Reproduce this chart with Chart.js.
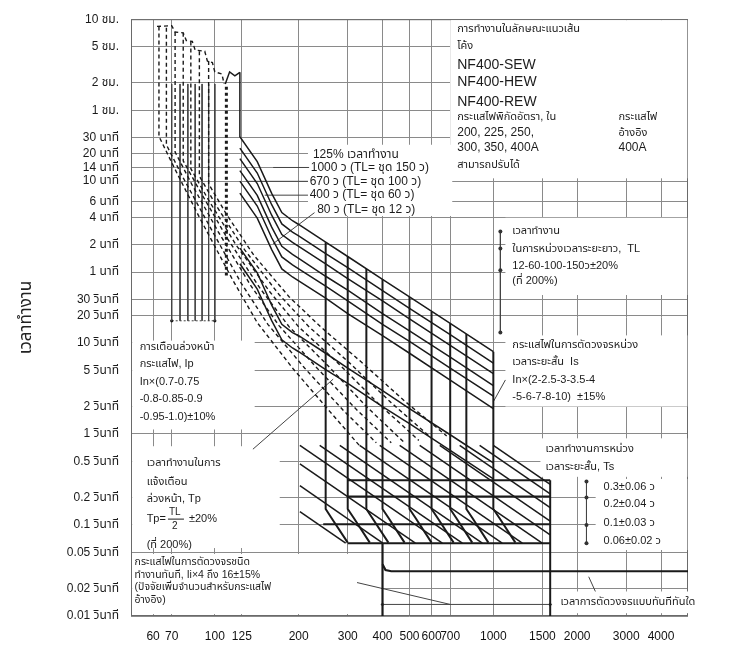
<!DOCTYPE html>
<html>
<head>
<meta charset="utf-8">
<script src="https://cdn.jsdelivr.net/npm/chart.js@4.4.1/dist/chart.umd.min.js"></script>
<style>
  html, body { margin: 0; padding: 0; background: #fff; }
  canvas { display: block; }
</style>
</head>
<body>
<canvas id="tcc" width="755" height="650"></canvas>
<script>
// Time-current characteristic, NF400-SEW/HEW/REW (electronic trip)
// x: current in % of rated current, y: operating time in seconds (log-log)

const CURRENT_TICKS = [60, 70, 100, 125, 200, 300, 400, 500, 600, 700, 1000, 1500, 2000, 3000, 4000];
const TIME_TICKS = [36000, 18000, 7200, 3600, 1800, 1200, 840, 600, 360, 240, 120, 60, 30, 20, 10, 5, 2, 1, 0.5, 0.2, 0.1, 0.05, 0.02, 0.01];
const TIME_LABELS = ['10 ชม.', '5 ชม.', '2 ชม.', '1 ชม.', '30 นาที', '20 นาที', '14 นาที', '10 นาที', '6 นาที', '4 นาที',
  '2 นาที', '1 นาที', '30 วินาที', '20 วินาที', '10 วินาที', '5 วินาที', '2 วินาที', '1 วินาที', '0.5 วินาที',
  '0.2 วินาที', '0.1 วินาที', '0.05 วินาที', '0.02 วินาที', '0.01 วินาที'];

// long time delay band (solid), [current %, s]
const LT_CAP = [[109, 7000], [113, 9500], [118, 8600], [123, 9400]];
const LT_1 = [[123, 9400], [123, 1840], [142, 980], [160, 440], [174, 270], [190, 220], [200, 200], [250, 128], [300, 89], [400, 50], [500, 32], [700, 16.4], [1000, 8]];
const LT_2 = [[123, 1380], [142, 735], [160, 330], [174, 203], [190, 165], [200, 150], [250, 96], [300, 67], [400, 37.5], [500, 24], [700, 12.3], [1000, 6]];
const LT_3 = [[123, 1058], [142, 564], [160, 253], [174, 155], [190, 127], [200, 115], [250, 74], [300, 51], [400, 29], [500, 18.4], [700, 9.4], [1000, 4.6]];
const LT_4 = [[123, 782], [142, 417], [160, 187], [174, 115], [190, 94], [200, 85], [250, 54], [300, 38], [400, 21], [500, 13.6], [700, 7], [1000, 3.4]];
const LT_5 = [[123, 598], [142, 319], [160, 143], [174, 88], [190, 72], [200, 65], [250, 42], [300, 29], [400, 16], [500, 10.4], [700, 5.3], [1000, 2.6]];
const LT_6 = [[123, 442], [142, 235], [160, 106], [174, 65], [190, 53], [200, 48], [250, 31], [300, 21], [400, 12], [500, 7.7], [700, 3.9], [1000, 1.9]];
const LT_7 = [[123, 110], [142, 59], [160, 26], [174, 16], [190, 13], [200, 12], [250, 7.7], [300, 5.3], [400, 3], [500, 1.9], [700, 0.98], [1000, 0.48]];
const LT_8 = [[123, 74], [142, 39], [160, 17.6], [174, 10.8], [190, 8.8], [200, 8], [250, 5.1], [300, 3.6], [400, 2], [500, 1.3], [700, 0.66], [1000, 0.32]];

// pre-alarm curves (dashed)
const PA_CAP = [[62, 30000], [70, 30500], [72, 26000], [77, 25500], [79, 21000], [83, 20500], [85, 16500], [92, 16000], [94, 12500], [98, 12000], [100, 9500], [106, 9000], [108, 7000]];
const PA_1 = [[63, 30000], [63, 1860], [72, 805], [88, 240], [116, 49], [142, 16.7], [191, 5.2], [259, 1.76], [330, 0.75]];
const PA_2 = [[67, 29000], [67, 1500], [77, 650], [95, 200], [124, 46], [155, 16], [210, 5.3], [290, 1.8], [380, 0.8]];
const PA_3 = [[72, 26000], [72, 1250], [83, 540], [103, 165], [135, 42], [170, 15.5], [230, 5.5], [320, 1.9], [430, 0.8]];
const PA_4 = [[77, 25500], [77, 1000], [89, 450], [111, 140], [146, 39], [185, 15], [255, 5.6], [350, 2.0], [480, 0.8]];
const PA_5 = [[82, 20500], [82, 820], [95, 370], [119, 120], [158, 36], [200, 15], [280, 5.8], [390, 2.1], [540, 0.85]];
const PA_6 = [[88, 16000], [88, 680], [102, 310], [128, 105], [170, 34], [218, 15], [305, 6], [430, 2.2], [600, 0.9]];
const PA_7 = [[95, 12500], [95, 560], [110, 260], [138, 92], [185, 32], [240, 15], [335, 6.2], [480, 2.3], [680, 0.95]];
const PA_LIMIT = [[110, 6500], [110, 55]];

// pre-alarm current settings Ip (thin verticals) and their end marks
const IP_SETTINGS = [70, 75, 80, 85, 90, 95, 100];
const IP_RANGE = [7000, 17.5];

// short time delay pickup Is lines
const ST_PICKUP = [
  [[250, 128], [250, 0.15], [262, 0.12], [300, 0.064]],
  [[300, 89], [300, 0.15], [315, 0.12], [360, 0.064]],
  [[350, 65], [350, 0.15], [367, 0.12], [420, 0.064]],
  [[400, 50], [400, 0.15], [420, 0.12], [480, 0.064]],
  [[500, 32], [500, 0.15], [525, 0.12], [600, 0.064]],
  [[600, 22], [600, 0.15], [630, 0.12], [720, 0.064]],
  [[700, 16.4], [700, 0.15], [735, 0.12], [840, 0.064]],
  [[800, 12.5], [800, 0.15], [840, 0.12], [960, 0.064]],
  [[1000, 8], [1000, 0.15], [1050, 0.12], [1200, 0.064]]
];
// short time delay Ts levels
const TS_LEVELS = [[[300, 0.31], [1600, 0.31]], [[300, 0.205], [1600, 0.205]], [[245, 0.102], [1600, 0.102]], [[300, 0.063], [1600, 0.063]]];
const TS_EDGE = [[1600, 0.31], [1600, 0.01]];
// I2t ramps
const RAMPS = [
  [[202, 0.47], [525, 0.063]], [[202, 0.27], [401, 0.063]], [[202, 0.14], [295, 0.063]],
  [[202, 0.75], [656, 0.063]], [[238, 0.75], [774, 0.063]], [[281, 0.75], [913, 0.063]],
  [[331, 0.75], [1076, 0.063]], [[391, 0.75], [1271, 0.063]], [[461, 0.75], [1498, 0.063]],
  [[544, 0.75], [1600, 0.078]], [[642, 0.75], [1600, 0.11]], [[757, 0.75], [1600, 0.155]],
  [[893, 0.75], [1600, 0.22]], [[1000, 0.75], [1600, 0.28]]
];

// instantaneous
const INST_V = [[400, 0.063], [400, 0.01]];
const INST_H = [[400, 0.037], [410, 0.032], [430, 0.031], [5000, 0.031]];
const INST_DIM = [[400, 0.0134], [1600, 0.0134]];

// dimension lines and leaders
const DIM_TL = [[1060, 167], [1060, 109], [1060, 63], [1060, 13]];
const DIM_TS = [[2160, 0.3], [2160, 0.2], [2160, 0.1], [2160, 0.063]];
const LEADERS = [
  [[162, 846], [218, 846]], [[130, 596], [216, 596]], [[151, 420], [216, 420]], [[228, 270], [162, 123]],
  [[137, 0.68], [266, 4.0]], [[324, 0.0233], [700, 0.0134]], [[2200, 0.027], [2325, 0.0186]],
  [[1105, 3.92], [1000, 2.26]]
];

// areas where the grid is blanked behind the notes: [x1, t1, x2, t2]
const WHITE_BOXES = [
  [700, 35100, 4970, 643], [216, 1503, 712, 248], [1105, 237, 4970, 33.6], [1105, 12.1, 4970, 2.0],
  [1476, 0.895, 4970, 0.338], [2330, 0.32, 4970, 0.0531], [1671, 0.0186, 8760, 0.01074],
  [50.5, 10.6, 139, 1.12], [50.5, 0.733, 171, 0.0558], [50.5, 0.048, 395, 0.0105]
];

// notes: text, x (current), y (time), font size
const NOTES = [
  ['การทำงานในลักษณะแนวเส้น', 742, 28000, 11], ['โค้ง', 742, 18300, 11],
  ['NF400-SEW', 742, 11390, 14], ['NF400-HEW', 742, 7260, 14], ['NF400-REW', 742, 4400, 14],
  ['กระแสไฟพิกัดอัตรา, ใน', 742, 3027, 11], ['กระแสไฟ', 2815, 3027, 11],
  ['200, 225, 250,', 742, 2030, 12], ['อ้างอิง', 2815, 2030, 11],
  ['300, 350, 400A', 742, 1395, 12], ['400A', 2815, 1395, 12], ['สามารถปรับได้', 742, 912, 11],
  ['125% เวลาทำงาน', 225, 1171, 12], ['1000 ว (TL= ชุด 150 ว)', 221, 846, 12],
  ['670 ว (TL= ชุด 100 ว)', 219, 596, 12], ['400 ว (TL= ชุด 60 ว)', 219, 420, 12],
  ['80 ว (TL= ชุด 12 ว)', 233, 289, 12],
  ['เวลาทำงาน', 1170, 170.8, 11], ['ในการหน่วงเวลาระยะยาว,  TL', 1170, 109, 11],
  ['12-60-100-150ว±20%', 1170, 69.5, 11], ['(ที่ 200%)', 1170, 47.7, 11],
  ['กระแสไฟในการตัดวงจรหน่วง', 1170, 9.4, 11], ['เวลาระยะสั้น  Is', 1170, 6.14, 11],
  ['In×(2-2.5-3-3.5-4', 1170, 3.92, 11], ['-5-6-7-8-10)  ±15%', 1170, 2.56, 11],
  ['เวลาทำงานการหน่วง', 1538, 0.681, 11], ['เวลาระยะสั้น, Ts', 1538, 0.434, 11],
  ['0.3±0.06 ว', 2488, 0.263, 11], ['0.2±0.04 ว', 2488, 0.172, 11],
  ['0.1±0.03 ว', 2488, 0.1045, 11], ['0.06±0.02 ว', 2488, 0.0665, 11],
  ['เวลาการตัดวงจรแบบทันทีทันใด', 1742, 0.0141, 11],
  ['การเตือนล่วงหน้า', 53.7, 8.93, 11], ['กระแสไฟ, Ip', 53.7, 5.84, 11],
  ['In×(0.7-0.75', 53.7, 3.72, 11], ['-0.8-0.85-0.9', 53.7, 2.44, 11], ['-0.95-1.0)±10%', 53.7, 1.55, 11],
  ['เวลาทำงานในการ', 56.9, 0.48, 11], ['แจ้งเตือน', 56.9, 0.2985, 11], ['ล่วงหน้า, Tp', 56.9, 0.195, 11],
  ['(ที่ 200%)', 56.9, 0.0603, 11],
  ['กระแสไฟในการตัดวงจรชนิด', 51.5, 0.0394, 10.5], ['ทำงานทันที, Ii×4 ถึง 16±15%', 51.5, 0.0284, 10.5],
  ['(ปัจจัยเพิ่มจำนวนสำหรับกระแสไฟ', 51.5, 0.0206, 10.5], ['อ้างอิง)', 51.5, 0.01485, 10.5]
];
const TP_FORMULA = [56.9, 0.116];

const FONT = '"Liberation Sans", "Noto Sans Thai", "Noto Sans", "DejaVu Sans", sans-serif';
const INK = '#1a1a1a';

const pts = arr => arr.map(([x, y]) => ({ x, y }));
const solid = (arr, w) => ({ data: pts(arr), borderColor: INK, borderWidth: w || 1.5 });
const dashed = (arr, w, dash) => ({ data: pts(arr), borderColor: INK, borderWidth: w || 1.4, borderDash: dash || [4, 3] });
const thin = arr => ({ data: pts(arr), borderColor: '#444', borderWidth: 1 });

const datasets = [];
[LT_CAP, LT_1, LT_2, LT_3, LT_4, LT_5, LT_6, LT_7, LT_8].forEach(c => datasets.push(solid(c, 1.5)));
[PA_CAP, PA_1, PA_2, PA_3, PA_4, PA_5, PA_6, PA_7].forEach(c => datasets.push(dashed(c)));
datasets.push(dashed(PA_LIMIT, 3, [3, 3]));
IP_SETTINGS.forEach(ip => datasets.push(thin([[ip, IP_RANGE[0]], [ip, IP_RANGE[1]]])));
datasets.push({ ...thin([[IP_SETTINGS[0], IP_RANGE[1]], [IP_SETTINGS[IP_SETTINGS.length - 1], IP_RANGE[1]]]),
  borderDash: [2, 2], pointRadius: 1.6, pointBackgroundColor: INK, pointBorderWidth: 0 });
ST_PICKUP.forEach(c => datasets.push(solid(c, 2)));
TS_LEVELS.forEach(c => datasets.push(solid(c, 2)));
datasets.push(solid(TS_EDGE, 2));
RAMPS.forEach(c => datasets.push(solid(c, 1.5)));
datasets.push(solid(INST_V, 2.2));
datasets.push(solid(INST_H, 2.2));
datasets.push({ ...thin(INST_DIM), pointRadius: 2, pointStyle: 'rectRot', pointBackgroundColor: '#444', pointBorderWidth: 0 });
datasets.push({ ...thin(DIM_TL), pointRadius: 2, pointBackgroundColor: '#333', pointBorderWidth: 0 });
datasets.push({ ...thin(DIM_TS), pointRadius: 2, pointBackgroundColor: '#333', pointBorderWidth: 0 });
LEADERS.forEach(c => datasets.push(thin(c)));
datasets.forEach(d => { d.showLine = true; d.fill = false; d.tension = 0; if (d.pointRadius === undefined) d.pointRadius = 0; });

const notesPlugin = {
  id: 'notes',
  beforeDatasetsDraw(chart) {
    const { ctx, chartArea: a, scales: { x, y } } = chart;
    ctx.save();
    ctx.strokeStyle = '#6a6a6a';
    ctx.lineWidth = 1;
    ctx.strokeRect(a.left + 0.5, a.top + 0.5, a.right - a.left - 1, a.bottom - a.top - 1);
    ctx.fillStyle = '#fff';
    WHITE_BOXES.forEach(([x1, t1, x2, t2]) => {
      const l = x.getPixelForValue(x1), r = x.getPixelForValue(x2);
      const t = y.getPixelForValue(t1), b = y.getPixelForValue(t2);
      ctx.fillRect(l, t, r - l, b - t);
    });
    ctx.restore();
  },
  afterDraw(chart) {
    const { ctx, scales: { x, y } } = chart;
    ctx.save();
    ctx.fillStyle = '#1c1c1c';
    ctx.textBaseline = 'middle';
    ctx.textAlign = 'left';
    NOTES.forEach(([text, cx, cy, size]) => {
      ctx.font = size + 'px ' + FONT;
      ctx.fillText(text, x.getPixelForValue(cx), y.getPixelForValue(cy));
    });
    // Tp = TL/2 ±20%
    const px = x.getPixelForValue(TP_FORMULA[0]), py = y.getPixelForValue(TP_FORMULA[1]);
    ctx.font = '11px ' + FONT;
    ctx.fillText('Tp=', px, py);
    const fx = px + ctx.measureText('Tp= ').width;
    ctx.font = '10px ' + FONT;
    ctx.fillText('TL', fx, py - 7);
    ctx.fillText('2', fx + 3, py + 7);
    ctx.fillRect(fx - 1, py - 0.5, 16, 1);
    ctx.font = '11px ' + FONT;
    ctx.fillText('±20%', fx + 20, py);
    ctx.restore();
  }
};

new Chart(document.getElementById('tcc'), {
  type: 'scatter',
  data: { datasets },
  options: {
    responsive: false,
    animation: false,
    events: [],
    layout: { padding: { left: 0, right: 67, top: 13, bottom: 0 } },
    plugins: { legend: { display: false }, tooltip: { enabled: false } },
    elements: { point: { radius: 0 } },
    scales: {
      x: {
        type: 'logarithmic',
        min: 50,
        max: 5000,
        afterBuildTicks: s => { s.ticks = CURRENT_TICKS.map(v => ({ value: v })); },
        afterFit: s => { s.height = 34; },
        grid: { color: '#8a8a8a', lineWidth: 1, drawTicks: false },
        border: { display: false },
        ticks: {
          autoSkip: false, maxRotation: 0, padding: 13, color: '#111',
          font: { family: '"Liberation Sans Narrow", "Liberation Sans", sans-serif', size: 12 },
          callback: v => String(v)
        }
      },
      y: {
        type: 'logarithmic',
        min: 0.01,
        max: 36000,
        afterBuildTicks: s => { s.ticks = TIME_TICKS.map(v => ({ value: v })); },
        afterFit: s => { s.width = 131; },
        grid: { color: '#8a8a8a', lineWidth: 1, drawTicks: false },
        border: { display: false },
        ticks: {
          autoSkip: false, padding: 12, color: '#1a1a1a',
          font: { family: FONT, size: 12 },
          callback: v => TIME_LABELS[TIME_TICKS.indexOf(v)]
        },
        title: {
          display: true, text: 'เวลาทำงาน', color: '#222',
          font: { family: FONT, size: 17 }, padding: { top: 16, bottom: 0 }
        }
      }
    }
  },
  plugins: [notesPlugin]
});
</script>
</body>
</html>
